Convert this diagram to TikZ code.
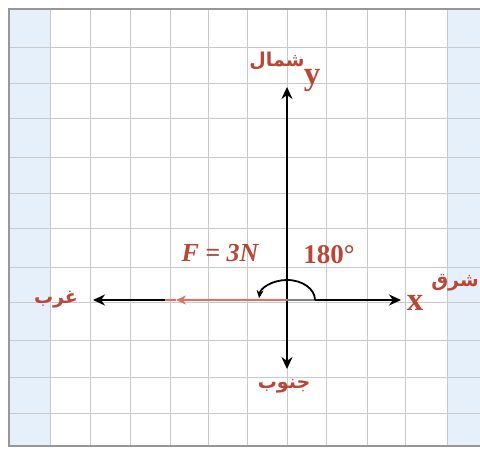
\documentclass[tikz,border=0pt]{standalone}
\usepackage{fontspec}
\setmainfont{Liberation Serif}
\newfontfamily\arabicfont[Script=Arabic]{DejaVu Sans}
\TeXXeTstate=1
\usetikzlibrary{arrows.meta}
\definecolor{labred}{RGB}{185,70,55}
\definecolor{vecred}{RGB}{228,110,100}
\definecolor{gridgray}{RGB}{200,200,205}
\definecolor{frameblue}{RGB}{230,240,250}
\definecolor{framegray}{RGB}{150,150,155}
\begin{document}
\begin{tikzpicture}[x=1pt,y=-1pt,
  axis/.style={line width=2.5pt, -{Stealth[length=12pt,width=11pt]}},
  ar/.style={font=\arabicfont\bfseries\fontsize{19}{22}\selectfont, text=labred, inner sep=0pt},
  lab/.style={text=labred, inner sep=0pt},
  gridline/.style={draw=gridgray, line width=1pt}]
\useasboundingbox (0,0) rectangle (480,450);
\begin{scope}
  \clip (0,0) rectangle (480,450);
  \fill[white] (0,0) rectangle (480,450);
  \fill[frameblue] (10,10) rectangle (50,446);
  \fill[frameblue] (447,10) rectangle (480,446);
  \foreach \x in {50,90,130,170,208,247,287,326,367,405,447}
    \draw[gridline] (\x,10) -- (\x,446);
  \foreach \y in {47,83,118,157,193,228,267,302,340,377,413}
    \draw[gridline] (10,\y) -- (480,\y);
  \draw[framegray, line width=2pt] (482,9) -- (9,9) -- (9,446) -- (482,446);
\end{scope}
% points
\coordinate (O) at (287,300);
\coordinate (N) at (287,87);
\coordinate (S) at (287,369);
\coordinate (W) at (93,300);
\coordinate (E) at (401,300);
\coordinate (Vend) at (165,300);
\coordinate (Vtip) at (176,300);
\coordinate (Estart) at (315,300);
% axes
\draw[axis] (O) -- (N);
\draw[axis] (O) -- (S);
\draw[axis] (Vend) -- (W);
\draw[axis] (Estart) -- (E);
\draw[gray, line width=1.8pt] (O) -- (Estart);
% force vector
\draw[vecred, line width=2.5pt, -{Stealth[length=10pt,width=9pt]}] (O) -- (Vtip);
\draw[vecred, line width=2.5pt] (Vtip) -- (Vend);
% angle arc
\draw[line width=1.8pt, -{Stealth[length=8pt,width=7pt]}] (Estart) arc[start angle=0, end angle=175, x radius=28pt, y radius=20pt];
% labels
\node[ar] (north) at (277,61) {\beginR شمال\endR};
\node[lab, font=\bfseries\fontsize{33}{36}\selectfont] (ylab) at (312,80) {y};
\node[ar] (south) at (284,386) {\beginR جنوب\endR};
\node[ar] (west) at (56,300) {\beginR غرب\endR};
\node[lab, font=\bfseries\fontsize{33}{36}\selectfont] (xlab) at (415,303) {x};
\node[ar] (east) at (455,283) {\beginR شرق\endR};
\node[lab, font=\bfseries\itshape\fontsize{26}{30}\selectfont] (F) at (220,253) {F = 3N};
\node[lab, font=\bfseries\fontsize{27}{30}\selectfont] (ang) at (329,255) {180°};
\end{tikzpicture}
\end{document}
